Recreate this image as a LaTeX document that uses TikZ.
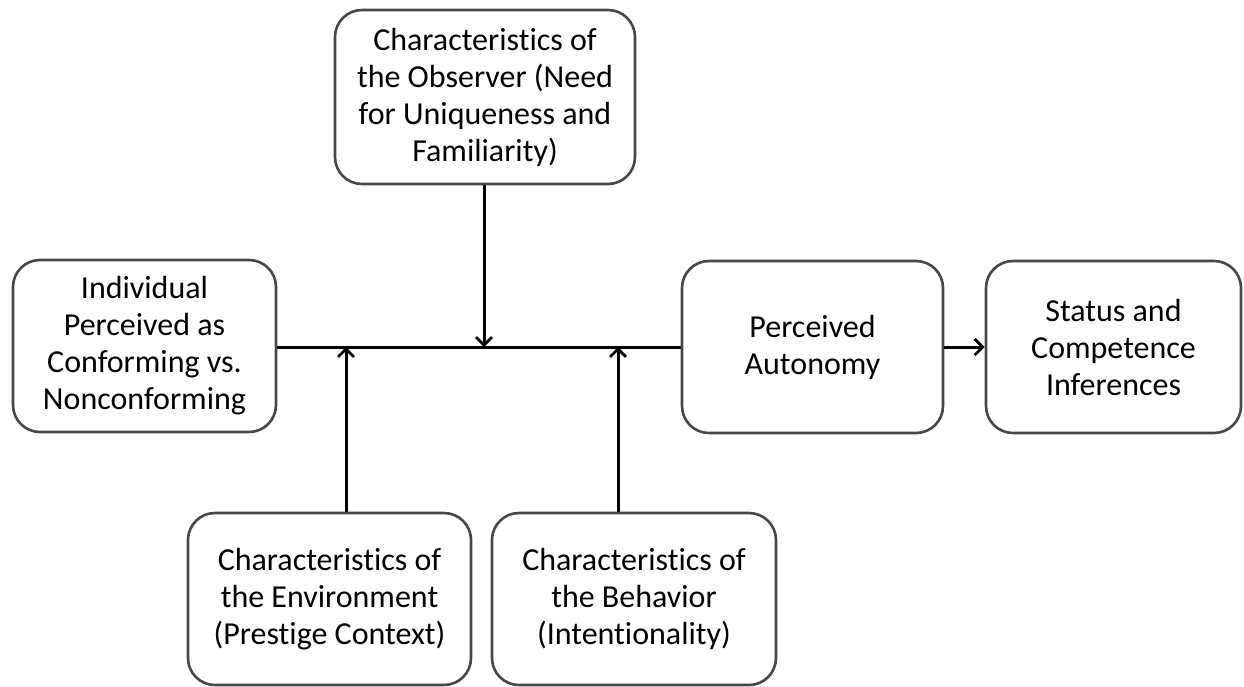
\documentclass[tikz,border=0pt]{standalone}
\usepackage{fontspec}
\setmainfont{Carlito}[Ligatures={NoCommon}]
\usetikzlibrary{arrows.meta}
\begin{document}
\begin{tikzpicture}[x=1pt,y=-1pt,
  box/.style={draw=black!72, line width=2.6pt, rounded corners=27pt, align=center,
    inner sep=0pt, font=\fontsize{32}{37}\selectfont, text=black},
  conn/.style={line width=3pt, black},
  arr/.style={conn, -{Straight Barb[length=8pt,width=16pt,line width=2.8pt]}}]
\useasboundingbox (0,0) rectangle (1244,686);
\node[box, minimum width=300pt, minimum height=174pt] (obs) at (485,97)
  {Characteristics of\\the Observer (Need\\for Uniqueness and\\Familiarity)};
\node[box, minimum width=263pt, minimum height=172pt] (ind) at (144.5,346)
  {Individual\\Perceived as\\Conforming vs.\\Nonconforming};
\node[box, minimum width=261pt, minimum height=172pt] (aut) at (812.5,347)
  {Perceived\\Autonomy};
\node[box, minimum width=255pt, minimum height=172pt] (sta) at (1113.5,347)
  {Status and\\Competence\\Inferences};
\node[box, minimum width=283pt, minimum height=172pt] (env) at (329.5,599)
  {Characteristics of\\the Environment\\(Prestige Context)};
\node[box, minimum width=284pt, minimum height=172pt] (beh) at (634,599)
  {Characteristics of\\the Behavior\\(Intentionality)};
\coordinate (mo) at (484,347);
\coordinate (me) at (346,347);
\coordinate (mb) at (618,347);
\draw[conn] (ind.east |- mo) -- (aut.west |- mo);
\draw[arr] (obs.south -| mo) -- (mo);
\draw[arr] (env.north -| me) -- (me);
\draw[arr] (beh.north -| mb) -- (mb);
\draw[arr] (aut.east) -- (sta.west);
\end{tikzpicture}
\end{document}
